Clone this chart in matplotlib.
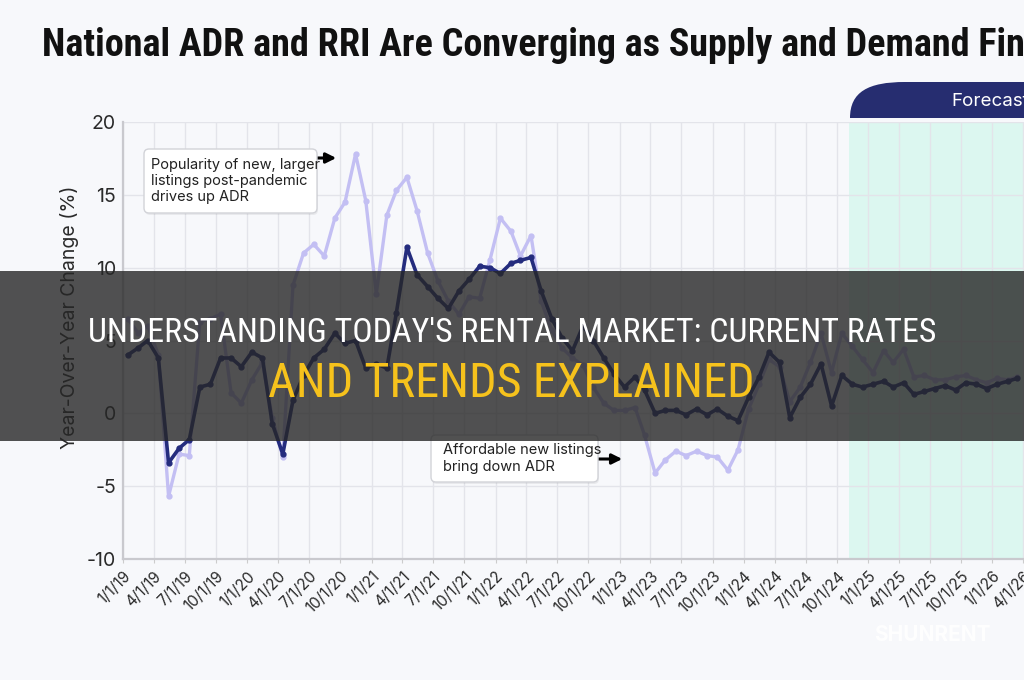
import pandas as pd
import matplotlib
matplotlib.use('Agg')
import matplotlib.pyplot as plt
from matplotlib.patches import FancyBboxPatch, Rectangle, PathPatch
from matplotlib.path import Path
from matplotlib.transforms import IdentityTransform

# 月度同比数据
rri = [4.0, 4.5, 5.0, 3.8, -3.4, -2.4, -1.8, 1.8, 2.0, 3.8,
       3.8, 3.2, 4.2, 3.8, -0.7, -2.8, 0.9, 2.6, 3.8, 4.4,
       5.5, 4.8, 5.0, 3.1, 3.4, 3.1, 6.9, 11.4, 9.5, 8.7,
       7.9, 7.2, 8.4, 9.2, 10.1, 10.0, 9.6, 10.3, 10.5, 10.7,
       8.4, 6.5, 5.2, 4.3, 6.0, 5.0, 3.8, 2.7, 1.8, 2.5,
       1.6, 0.0, 0.2, 0.2, -0.1, 0.3, -0.1, 0.3, -0.2, -0.5,
       1.1, 2.5, 4.2, 3.5, -0.3, 1.1, 2.0, 3.4, 0.5, 2.6,
       2.0, 1.8, 2.0, 2.2, 1.8, 2.1, 1.3, 1.5, 1.7, 1.9,
       1.6, 2.1, 2.0, 1.7, 2.0, 2.2, 2.4]
adr = [6.5, 5.5, 6.0, 4.0, -5.7, -2.8, -2.9, 6.3, 6.5, 6.8,
       1.4, 0.7, 2.3, 3.5, -0.3, -3.0, 8.8, 11.0, 11.6, 10.8,
       13.4, 14.5, 17.8, 14.6, 8.2, 13.6, 15.3, 16.2, 13.9, 11.0,
       9.1, 7.7, 6.8, 8.0, 7.9, 10.5, 13.4, 12.5, 10.8, 12.2,
       7.7, 5.7, 4.5, 3.8, 3.3, 1.8, 0.7, 0.2, 0.2, 0.4,
       -1.5, -4.1, -3.2, -2.6, -2.9, -2.6, -2.9, -3.0, -3.9, -2.5,
       0.3, 2.0, 3.7, 3.2, 0.8, 1.8, 3.5, 5.5, 2.8, 5.5,
       4.6, 3.7, 2.8, 4.3, 3.5, 4.4, 2.5, 2.6, 2.3, 2.3,
       2.5, 2.6, 2.3, 2.1, 2.4, 2.3, 2.5]
dates = pd.date_range('2019-01-01', periods=len(rri), freq='MS') + pd.Timedelta(days=14)
tick_dates = pd.date_range('2019-01-01', '2026-04-01', freq='QS')
forecast_start = pd.Timestamp('2024-11-05')
y_ticks = [-10, -5, 0, 5, 10, 15, 20]

title = 'National ADR and RRI Are Converging as Supply and Demand Find Balance'
note1 = 'Popularity of new, larger\nlistings post-pandemic\ndrives up ADR'
note2 = 'Affordable new listings\nbring down ADR'
banner1 = "UNDERSTANDING TODAY'S RENTAL MARKET: CURRENT RATES"
banner2 = 'AND TRENDS EXPLAINED'

W, H = 1024, 680
BG = '#f7f8fb'
COND = ['Roboto Condensed', 'DejaVu Sans']
plt.rcParams['font.family'] = ['Inter', 'DejaVu Sans']
plt.rcParams['axes.unicode_minus'] = False

fig = plt.figure(figsize=(W / 100, H / 100), dpi=100, facecolor=BG)
renderer = fig.canvas.get_renderer()


def fit_width(t, target):
    # 调整字号使文字宽度接近目标像素
    for _ in range(4):
        w = t.get_window_extent(renderer).width
        t.set_fontsize(t.get_fontsize() * target / w)
    return t.get_fontsize()


ax = fig.add_axes([123 / W, (H - 559) / H, (W - 123) / W, (559 - 122) / H])
ax.set_facecolor(BG)

ax.axvspan(forecast_start, pd.Timestamp('2026-06-01'), color='#dcf7f0', zorder=0, lw=0)
ax.plot(dates, adr, color='#c3bff3', lw=2.4, marker='o', ms=3.5, zorder=3)
ax.plot(dates, rri, color='#242c7e', lw=2.6, marker='o', ms=3.5, zorder=4)

ax.set_ylim(-10, 20)
ax.set_yticks(y_ticks)
ax.set_xlim(pd.Timestamp('2019-01-01'), pd.Timestamp('2026-04-04'))
ax.set_xticks(tick_dates)
ax.set_xticklabels([f'{d.month}/{d.day}/{d:%y}' for d in tick_dates],
                   rotation=45, ha='right', rotation_mode='anchor', fontsize=11, color='#2a2a2a')
ax.tick_params(axis='y', labelsize=14, colors='#2a2a2a', length=0, pad=5)
ax.tick_params(axis='x', length=3, color='#cccccc', pad=4)
ax.grid(True, color='#e3e4ea', lw=1)
ax.set_axisbelow(True)
for s in ['top', 'right']:
    ax.spines[s].set_visible(False)
for s in ['left', 'bottom']:
    ax.spines[s].set_color('#c9c9ce')
    ax.spines[s].set_linewidth(1.6)

fig.text(70 / W, 1 - 317 / H, 'Year-Over-Year Change (%)', rotation=90,
         ha='center', va='center', fontsize=14, color='#2a2a2a')

# title: size chosen so that "...Demand Fin" reaches the right edge
probe = fig.text(0, 0, title[:title.index('Find') + 3], fontsize=26, fontweight='bold', family=COND)
tsize = fit_width(probe, W - 42)
probe.remove()
fig.text(42 / W, 1 - 46 / H, title, ha='left', va='center', fontsize=tsize,
         fontweight='bold', family=COND, color='#111111')

# forecast tab
ident = IdentityTransform()
tab = Path([(850, H - 118), (850, H - 92), (868, H - 82), (905, H - 82),
            (1030, H - 82), (1030, H - 118), (850, H - 118)],
           [Path.MOVETO, Path.CURVE4, Path.CURVE4, Path.CURVE4,
            Path.LINETO, Path.LINETO, Path.CLOSEPOLY])
fig.patches.append(PathPatch(tab, transform=ident, facecolor='#262d70', edgecolor='none', zorder=5))
fig.text(951 / W, 1 - 101 / H, 'Forecast', color='white', fontsize=13.5, ha='left', va='center', zorder=6)

# annotation boxes
for (x0, y0, x1, y1), txt, tx in [((144, 149, 317, 213), note1, 151), ((431, 435, 598, 482), note2, 443)]:
    fig.patches.append(FancyBboxPatch((x0 + 1, H - y1 - 2), x1 - x0, y1 - y0, boxstyle='round,pad=0,rounding_size=5',
                                      transform=ident, facecolor='#000000', alpha=0.06, edgecolor='none', zorder=5))
    fig.patches.append(FancyBboxPatch((x0, H - y1), x1 - x0, y1 - y0, boxstyle='round,pad=0,rounding_size=5',
                                      transform=ident, facecolor='white', edgecolor='#d2d3d8', lw=1, zorder=5))
    fig.text(tx / W, 1 - (y0 + y1) / 2 / H, txt, ha='left', va='center', fontsize=10.5,
             linespacing=1.2, color='#222222', zorder=6)
ax.annotate('', xy=(339, H - 158), xytext=(306, H - 158), xycoords='figure pixels',
            arrowprops=dict(arrowstyle='-|>', lw=2.2, color='black', mutation_scale=15), zorder=6)
ax.annotate('', xy=(625, H - 459), xytext=(592, H - 459), xycoords='figure pixels',
            arrowprops=dict(arrowstyle='-|>', lw=2.2, color='black', mutation_scale=15), zorder=6)

# banner overlay
fig.patches.append(Rectangle((0, H - 441), W, 170, transform=ident, facecolor='#262626',
                             alpha=0.8, edgecolor='none', zorder=10))
b1 = fig.text(512 / W, 1 - 333 / H, banner1, ha='center', va='center', fontsize=22, color='white',
              family=COND, zorder=11)
fit_width(b1, 848)
b2 = fig.text(511 / W, 1 - 384 / H, banner2, ha='center', va='center', fontsize=28, color='#f6c21c',
              family=COND, zorder=11)
fit_width(b2, 487)
fig.text(932 / W, 1 - 635 / H, 'SHUNRENT', ha='center', va='center', fontsize=15, fontweight='bold',
         color='white', alpha=0.9, zorder=11)

fig.savefig('out.png', dpi=100, facecolor=BG)
